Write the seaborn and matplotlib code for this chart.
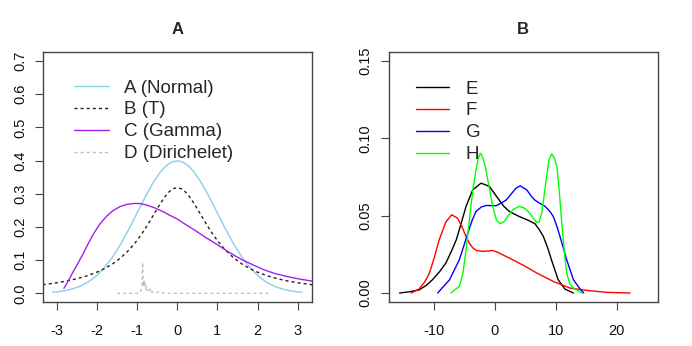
import matplotlib
matplotlib.use("Agg")
import matplotlib.pyplot as plt
import seaborn as sns
import pandas as pd

# ---------------- Panel A data ----------------
normal_x = [-3.1, -3.0, -2.8, -2.6, -2.4, -2.2, -2.0, -1.8, -1.6, -1.4, -1.2, -1.0, -0.8, -0.6, -0.4, -0.3, -0.2, -0.1, 0.0,
            0.1, 0.2, 0.3, 0.4, 0.6, 0.8, 1.0, 1.2, 1.4, 1.6, 1.8, 2.0, 2.2, 2.4, 2.6, 2.8, 3.0, 3.1]
normal_y = [0.0033, 0.0044, 0.0079, 0.0136, 0.0224, 0.0355, 0.0540, 0.0790, 0.1109, 0.1497, 0.1942, 0.2420, 0.2897, 0.3332, 0.3683, 0.3814, 0.3910, 0.3970, 0.3989,
            0.3970, 0.3910, 0.3814, 0.3683, 0.3332, 0.2897, 0.2420, 0.1942, 0.1497, 0.1109, 0.0790, 0.0540, 0.0355, 0.0224, 0.0136, 0.0079, 0.0044, 0.0033]

t_x = [-3.5, -3.25, -3.0, -2.75, -2.5, -2.25, -2.0, -1.8, -1.6, -1.4, -1.2, -1.0, -0.9, -0.8, -0.7, -0.6, -0.5, -0.4, -0.3, -0.2, -0.1, 0.0,
       0.1, 0.2, 0.3, 0.4, 0.5, 0.6, 0.7, 0.8, 0.9, 1.0, 1.2, 1.4, 1.6, 1.8, 2.0, 2.25, 2.5, 2.75, 3.0, 3.25, 3.5]
t_y = [0.0240, 0.0275, 0.0318, 0.0372, 0.0439, 0.0525, 0.0637, 0.0751, 0.0894, 0.1075, 0.1305, 0.1592, 0.1759, 0.1941, 0.2136, 0.2341, 0.2546, 0.2744, 0.2920, 0.3061, 0.3152, 0.3183,
       0.3152, 0.3061, 0.2920, 0.2744, 0.2546, 0.2341, 0.2136, 0.1941, 0.1759, 0.1592, 0.1305, 0.1075, 0.0894, 0.0751, 0.0637, 0.0525, 0.0439, 0.0372, 0.0318, 0.0275, 0.0240]

gamma_x = [-2.82, -2.7, -2.59, -2.46, -2.34, -2.21, -2.09, -1.93, -1.76, -1.6, -1.43, -1.25, -1.05, -0.9, -0.76, -0.55, -0.35, -0.2,
           0.0, 0.2, 0.44, 0.7, 1.02, 1.3, 1.6, 1.9, 2.18, 2.45, 2.76, 3.05, 3.4]
gamma_y = [0.015, 0.040, 0.065, 0.093, 0.120, 0.151, 0.178, 0.208, 0.232, 0.249, 0.261, 0.268, 0.271, 0.270, 0.266, 0.257, 0.246, 0.236,
           0.224, 0.208, 0.190, 0.169, 0.145, 0.123, 0.102, 0.085, 0.070, 0.059, 0.050, 0.043, 0.036]

dir_x = [-1.5, -0.93, -0.9, -0.88, -0.87, -0.86, -0.85, -0.84, -0.83, -0.82, -0.80, -0.79, -0.77, -0.75,
         -0.72, -0.69, -0.66, -0.63, -0.58, -0.52, -0.45, -0.4, -0.3, -0.2, 2.3]
dir_y = [0.0, 0.0, 0.010, 0.020, 0.060, 0.093, 0.050, 0.020, 0.040, 0.025, 0.030, 0.012, 0.020, 0.008,
         0.012, 0.004, 0.015, 0.003, 0.006, 0.002, 0.004, 0.0, 0.003, 0.0, 0.0]

a_labels = ["A (Normal)", "B (T)", "C (Gamma)", "D (Dirichelet)"]
a_xticks = [-3, -2, -1, 0, 1, 2, 3]
a_yticks = [0.0, 0.1, 0.2, 0.3, 0.4, 0.5, 0.6, 0.7]

# ---------------- Panel B data ----------------
e_x = [-15.6, -14.0, -12.4, -11.2, -10.2, -9.0, -8.0, -7.1, -6.3, -5.5, -4.7, -3.6, -2.25, -0.9, 0.75,
       1.5, 2.4, 4.0, 5.5, 6.6, 7.3, 7.97, 8.7, 9.3, 10.4, 11.5, 12.9]
e_y = [0.0, 0.0008, 0.002, 0.005, 0.0086, 0.014, 0.0194, 0.027, 0.0344, 0.045, 0.056, 0.0667, 0.071, 0.069, 0.060,
       0.056, 0.0527, 0.0495, 0.047, 0.0448, 0.041, 0.0366, 0.029, 0.0215, 0.0086, 0.0026, 0.0]

f_x = [-13.7, -12.4, -11.5, -10.7, -9.9, -9.1, -8.0, -7.05, -6.1, -5.4, -4.7, -4.2, -3.6, -3.0, -2.0, -1.0, -0.33, 0.4, 1.3,
       2.95, 4.85, 6.9, 9.6, 12.35, 15.1, 18.4, 22.2]
f_y = [0.0, 0.0026, 0.007, 0.0129, 0.023, 0.0344, 0.046, 0.0506, 0.0484, 0.043, 0.0366, 0.0325, 0.0292, 0.0275, 0.0269, 0.0272, 0.0275, 0.0265, 0.0247,
       0.0215, 0.0176, 0.0129, 0.0075, 0.0032, 0.0017, 0.0004, 0.0]

g_x = [-9.35, -7.4, -5.8, -5.1, -4.4, -3.7, -3.07, -2.2, -1.4, 0.2, 1.0, 1.85, 2.7, 3.5, 4.15, 5.25,
       6.0, 6.6, 7.4, 8.25, 9.0, 9.6, 10.2, 10.7, 11.8, 12.9, 14.0, 14.6]
g_y = [0.0, 0.0086, 0.0215, 0.030, 0.0388, 0.047, 0.0527, 0.0556, 0.0566, 0.0564, 0.058, 0.060, 0.064, 0.0678, 0.0693, 0.0667,
       0.0625, 0.060, 0.058, 0.056, 0.053, 0.0495, 0.043, 0.0366, 0.0215, 0.0086, 0.0026, 0.0]

h_x = [-7.2, -5.8, -5.2, -4.7, -4.3, -3.9, -3.5, -3.07, -2.7, -2.36, -2.0, -1.54, -0.9, -0.33, 0.3, 0.87,
       1.5, 2.13, 3.0, 4.03, 4.8, 5.5, 6.2, 6.9, 7.3, 7.7, 8.1, 8.5, 8.9, 9.35, 9.8, 10.2, 10.6, 11.0,
       11.4, 11.8, 12.3, 12.9, 14.3]
h_y = [0.0, 0.0043, 0.013, 0.028, 0.042, 0.056, 0.069, 0.0796, 0.087, 0.0904, 0.088, 0.0818, 0.068, 0.056, 0.047, 0.0448,
       0.046, 0.0495, 0.054, 0.056, 0.055, 0.0527, 0.049, 0.0456, 0.046, 0.0517, 0.063, 0.0753, 0.086, 0.090, 0.087, 0.0818, 0.065, 0.0452,
       0.027, 0.0129, 0.006, 0.0032, 0.0]

b_labels = ["E", "F", "G", "H"]
b_xticks = [-10, 0, 10, 20]
b_yticks = [0.00, 0.05, 0.10, 0.15]

# ---------------- Style ----------------
sns.set_theme(style="ticks")
plt.rcParams["font.family"] = ["Liberation Sans", "DejaVu Sans"]
plt.rcParams["axes.edgecolor"] = "#444444"
plt.rcParams["axes.linewidth"] = 1.0
plt.rcParams["xtick.color"] = "#444444"
plt.rcParams["ytick.color"] = "#444444"
plt.rcParams["xtick.labelcolor"] = "#111111"
plt.rcParams["ytick.labelcolor"] = "#111111"

fig = plt.figure(figsize=(6.92, 3.46), dpi=100)
axA = fig.add_axes([43.3 / 692, (346 - 302.3) / 346, (311.7 - 43.3) / 692, (302.3 - 52.3) / 346])
axB = fig.add_axes([388.7 / 692, (346 - 302.3) / 346, (657.7 - 388.7) / 692, (302.3 - 52.3) / 346])

dash = (0, (2.2, 2.2))
lw = 1.0

def draw(ax, xs, ys, color, label, ls="-"):
    df = pd.DataFrame({"x": xs, "y": ys})
    sns.lineplot(data=df, x="x", y="y", ax=ax, color=color, linewidth=lw, linestyle=ls,
                 label=label, sort=False, estimator=None)

draw(axA, normal_x, normal_y, "#87CEEB", a_labels[0])
draw(axA, t_x, t_y, "#222222", a_labels[1], dash)
draw(axA, gamma_x, gamma_y, "#A020F0", a_labels[2])
draw(axA, dir_x, dir_y, "#C0C0C0", a_labels[3], dash)

draw(axB, e_x, e_y, "#000000", b_labels[0])
draw(axB, f_x, f_y, "#FF0000", b_labels[1])
draw(axB, g_x, g_y, "#0000FF", b_labels[2])
draw(axB, h_x, h_y, "#00FF00", b_labels[3])

axA.set_xlim(-3.334, 3.349)
axA.set_ylim(-0.027, 0.726)
axB.set_xlim(-17.38, 26.72)
axB.set_ylim(-0.006, 0.1556)

axA.set_xticks(a_xticks)
axA.set_xticklabels([str(v) for v in a_xticks])
axA.set_yticks(a_yticks)
axA.set_yticklabels([f"{v:.1f}" for v in a_yticks])
axB.set_xticks(b_xticks)
axB.set_xticklabels([str(v) for v in b_xticks])
axB.set_yticks(b_yticks)
axB.set_yticklabels([f"{v:.2f}" for v in b_yticks])

for ax, title in ((axA, "A"), (axB, "B")):
    ax.set_xlabel("")
    ax.set_ylabel("")
    for s in ax.spines.values():
        s.set_visible(True)
    ax.tick_params(axis="x", length=5.8, width=0.8, pad=10, labelsize=10.5)
    ax.tick_params(axis="y", length=5.8, width=0.8, pad=6, labelsize=10.5)
    for lab in ax.get_yticklabels():
        lab.set_rotation(90)
        lab.set_va("center")
    ax.set_title(title, fontsize=12, fontweight="bold", pad=13)

axA.legend(loc="upper left", bbox_to_anchor=(0.113, 0.891), frameon=False, fontsize=13.5,
           handlelength=1.87, handletextpad=0.8, labelspacing=0.25, borderpad=0, borderaxespad=0)
axB.legend(loc="upper left", bbox_to_anchor=(0.10, 0.887), frameon=False, fontsize=13.5,
           handlelength=1.78, handletextpad=0.9, labelspacing=0.25, borderpad=0, borderaxespad=0)

fig.savefig("out.png", dpi=100)
